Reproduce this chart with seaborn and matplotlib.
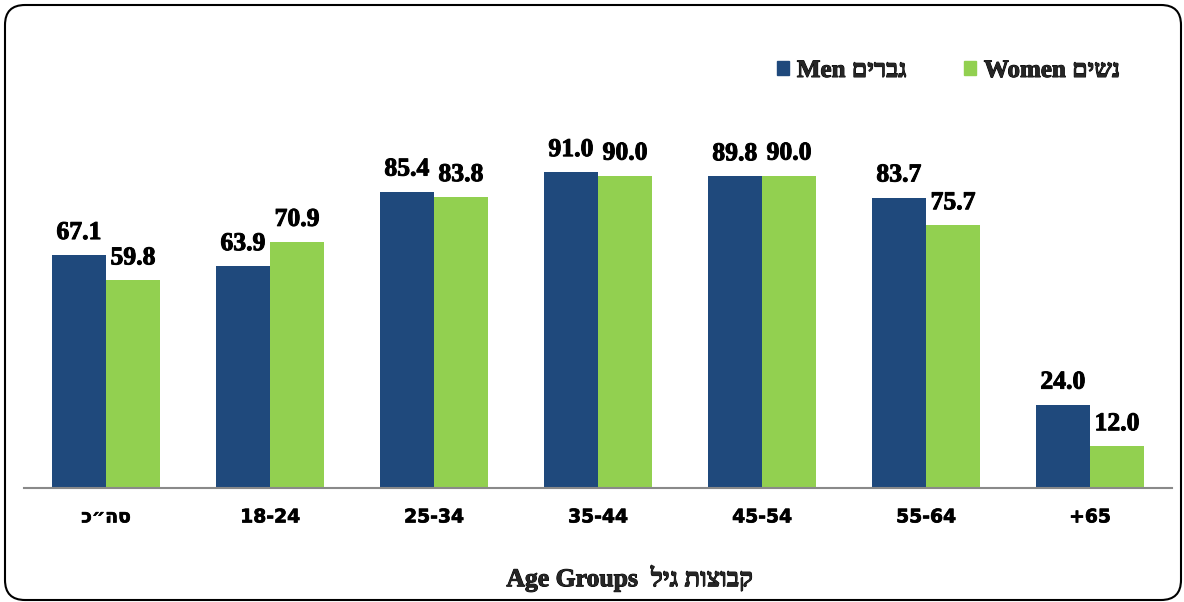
import seaborn as sns
import pandas as pd
import matplotlib.pyplot as plt
import matplotlib.patheffects as pe
from matplotlib.patches import FancyBboxPatch, Patch
from matplotlib.transforms import IdentityTransform

# hebrew strings reversed by hand, matplotlib has no bidi
groups = ['סה״כ'[::-1], '18-24', '25-34', '35-44', '45-54', '55-64', '+65']
men = [67.1, 63.9, 85.4, 91.0, 89.8, 83.7, 24.0]
women = [59.8, 70.9, 83.8, 90.0, 90.0, 75.7, 12.0]

men_label = 'Men ' + 'גברים'[::-1]
women_label = 'Women ' + 'נשים'[::-1]
xlabel = 'Age Groups  ' + 'קבוצות גיל'[::-1]

NAVY = '#1F497C'
GREEN = '#92D050'
SERIF = ['Liberation Serif', 'DejaVu Sans']
HEAVY = [pe.withStroke(linewidth=0.7, foreground='black')]


def build_frame():
    rows = []
    for g, m, w in zip(groups, men, women):
        rows.append({'group': g, 'sex': 'men', 'value': m})
        rows.append({'group': g, 'sex': 'women', 'value': w})
    return pd.DataFrame(rows)


def draw():
    sns.set_style('white')
    df = build_frame()

    fig = plt.figure(figsize=(11.84, 6.02), dpi=100)
    ax = fig.add_axes([24 / 1184, 114 / 602, 1148 / 1184, 347 / 602])

    sns.barplot(data=df, x='group', y='value', hue='sex', order=groups,
                hue_order=['men', 'women'],
                palette={'men': NAVY, 'women': GREEN}, saturation=1,
                width=0.66, gap=0, legend=False, linewidth=0, ax=ax)

    for c in ax.containers:
        labels = ax.bar_label(c, fmt='%.1f', padding=8, fontsize=18.5,
                              fontweight='bold', family=SERIF, color='black')
        for t in labels:
            t.set_path_effects(HEAVY)

    ax.set_ylim(0, 100)
    ax.set_xlim(-0.5, len(groups) - 0.5)
    for s in ['left', 'right', 'top']:
        ax.spines[s].set_visible(False)
    ax.spines['bottom'].set_color('#898989')
    ax.spines['bottom'].set_linewidth(1.5)
    ax.set_yticks([])
    ax.set_xlabel('')
    ax.set_ylabel('')
    ax.tick_params(axis='x', which='major', length=0, pad=14)
    ax.set_xticks([i - 0.5 for i in range(len(groups) + 1)], minor=True)
    ax.tick_params(axis='x', which='minor', length=6, width=1.5,
                   color='#898989')
    for t in ax.get_xticklabels():
        t.set_family(['DejaVu Sans'])
        t.set_fontweight('bold')
        t.set_fontsize(13.5)
        t.set_color('black')
        t.set_path_effects([pe.withStroke(linewidth=0.5, foreground='black')])

    handles = [Patch(color=NAVY, label=men_label),
               Patch(color=GREEN, label=women_label)]
    leg = fig.legend(handles=handles, loc='upper right', ncol=2, frameon=False,
                     bbox_to_anchor=(1130 / 1184, 1 - 49 / 602),
                     prop={'family': SERIF, 'weight': 'bold', 'size': 18},
                     handlelength=0.5, handleheight=0.5, handletextpad=0.3,
                     columnspacing=2.3, borderaxespad=0)
    for t in leg.get_texts():
        t.set_path_effects(HEAVY)

    fig.text(630 / 1184, 1 - 578 / 602, xlabel, ha='center', va='center',
             fontsize=18.5, fontweight='bold', family=SERIF,
             path_effects=HEAVY)

    box = FancyBboxPatch((5, 2), 1176, 595, boxstyle='round,pad=0,rounding_size=20',
                         transform=IdentityTransform(), fill=False,
                         edgecolor='black', linewidth=1.5)
    fig.patches.append(box)

    fig.savefig('out.png', dpi=100)


if __name__ == '__main__':
    draw()
